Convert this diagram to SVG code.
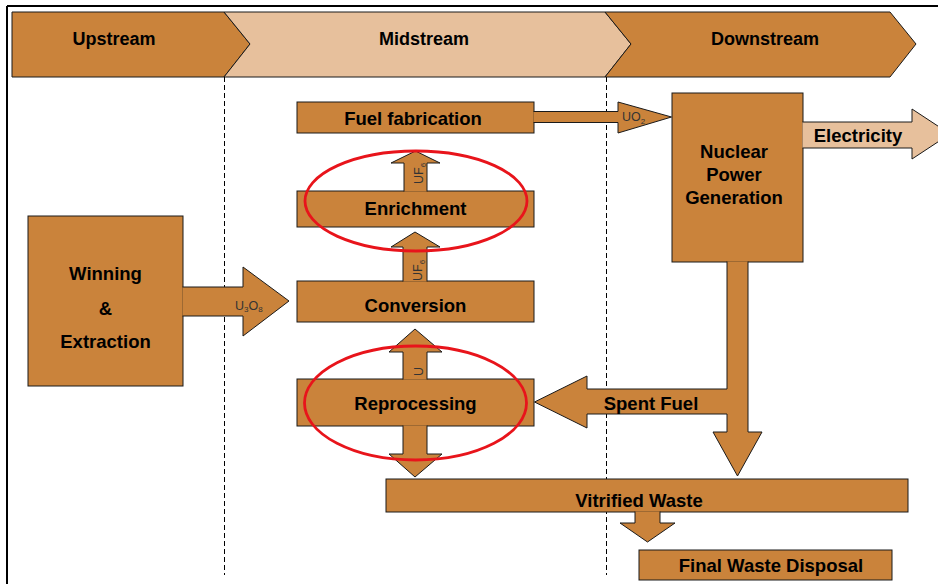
<svg xmlns="http://www.w3.org/2000/svg" width="938" height="584" viewBox="0 0 938 584">
<style>
.box{fill:#CA833B;stroke:#1a1a1a;stroke-width:1}
.arr{fill:#CA833B;stroke:#1a1a1a;stroke-width:1;stroke-linejoin:miter}
.light{fill:#E7C09C;stroke:#1a1a1a;stroke-width:1}
.lbl{font-family:"Liberation Sans",Arial,sans-serif;font-weight:bold;font-size:18.5px;fill:#000;text-anchor:middle}
.hd{font-size:18px}
.sm{font-family:"Liberation Sans",Arial,sans-serif;font-size:12.5px;fill:#333}
.dash{stroke:#000;stroke-width:1;stroke-dasharray:5,3;fill:none}
.ring{fill:none;stroke:#E8141B;stroke-width:2.8}
</style>
<rect x="0" y="0" width="938" height="584" fill="#fff"/>
<g id="frame">
<line x1="7" y1="6" x2="938" y2="6" stroke="#000" stroke-width="2"/>
<line x1="7" y1="6" x2="7" y2="584" stroke="#000" stroke-width="2"/>
</g>
<g id="header">
<g id="upstream">
<polygon class="box" points="12,12 224,12 250,44 224,77 12,77"/>
<text class="lbl hd" x="114" y="45">Upstream</text>
</g>
<g id="midstream">
<polygon class="light" points="224,12 605,12 631,44 605,77 224,77 250,44"/>
<text class="lbl hd" x="424" y="45">Midstream</text>
</g>
<g id="downstream">
<polygon class="box" points="605,12 890,12 916,44 890,77 605,77 631,44"/>
<text class="lbl hd" x="765" y="45">Downstream</text>
</g>
</g>
<g id="dividers">
<line class="dash" x1="224.5" y1="77" x2="224.5" y2="575"/>
<line class="dash" x1="606.5" y1="77" x2="606.5" y2="575"/>
</g>
<g id="fuel-fabrication"><rect class="box" x="297" y="102" width="237" height="31"/><text class="lbl" x="413" y="125">Fuel fabrication</text></g>
<g id="enrichment"><rect class="box" x="297" y="191" width="237" height="36"/></g>
<g id="conversion"><rect class="box" x="297" y="281" width="237" height="41"/></g>
<g id="reprocessing"><rect class="box" x="297" y="379" width="237" height="47"/></g>
<g id="winning-extraction"><rect class="box" x="28" y="216" width="155" height="170"/></g>
<g id="nuclear-power"><rect class="box" x="672" y="93" width="131" height="169"/></g>
<g id="vitrified-waste"><rect class="box" x="386" y="479" width="522" height="33"/></g>
<g id="final-disposal"><rect class="box" x="639" y="550" width="253" height="30"/><text class="lbl" x="771" y="572">Final Waste Disposal</text></g>
<g id="connectors">
<path class="arr" d="M533.5,111.5 L618,111.5 L618,102 L671.5,117 L618,133 L618,122.5 L533.5,122.5"/>
<path class="arr" d="M404,191.5 L404,163 L391,163 L415.5,151 L440,163 L427,163 L427,191.5"/>
<path class="arr" d="M403,281.5 L403,247 L391,247 L415,232 L440,247 L427,247 L427,281.5"/>
<path class="arr" d="M403,379.5 L403,352 L389,352 L415,329 L442,352 L427,352 L427,379.5"/>
<path class="arr" d="M403,425.5 L403,454 L389,454 L415,477 L442,454 L427,454 L427,425.5"/>
<path class="arr" d="M182.5,287 L243,287 L243,267 L289,301 L243,336 L243,316 L182.5,316"/>
<path class="arr" d="M727,261.5 L727,389 L587,389 L587,376 L534.5,402 L587,428 L587,414 L727,414 L727,432 L713,432 L737.5,476 L762,432 L748,432 L748,261.5"/>
<path class="arr" d="M635,511.5 L635,523 L620,523 L647.5,542 L675,523 L660,523 L660,511.5"/>
<path class="light" d="M802.5,122 L912,122 L912,109 L950,134 L912,159 L912,148 L802.5,148"/>
</g>
<g id="labels">
<text class="lbl" x="415.5" y="215">Enrichment</text>
<text class="lbl" x="415.5" y="312">Conversion</text>
<text class="lbl" x="415.5" y="410">Reprocessing</text>
<text class="lbl" x="105.5" y="280">Winning</text>
<text class="lbl" x="105.5" y="315">&amp;</text>
<text class="lbl" x="105.5" y="348">Extraction</text>
<text class="lbl" x="734" y="158">Nuclear</text>
<text class="lbl" x="734" y="181">Power</text>
<text class="lbl" x="734" y="204">Generation</text>
<text class="lbl" x="858" y="142">Electricity</text>
<text class="lbl" x="651" y="410">Spent Fuel</text>
<text class="lbl" x="639" y="507">Vitrified Waste</text>
<text class="sm" x="622" y="121">UO<tspan font-size="8" dy="3">2</tspan></text>
<text class="sm" x="235" y="310">U<tspan font-size="8" dy="2">3</tspan><tspan dy="-2">O</tspan><tspan font-size="8" dy="2">8</tspan></text>
<text class="sm" transform="translate(423,184) rotate(-90)">UF<tspan font-size="8" dy="3">6</tspan></text>
<text class="sm" transform="translate(422,281) rotate(-90)">UF<tspan font-size="8" dy="3">6</tspan></text>
<text class="sm" transform="translate(422.5,376) rotate(-90)">U</text>
</g>
<g id="highlights">
<ellipse class="ring" cx="416" cy="201" rx="111" ry="50"/>
<ellipse class="ring" cx="415.5" cy="403" rx="111" ry="57"/>
</g>
</svg>
